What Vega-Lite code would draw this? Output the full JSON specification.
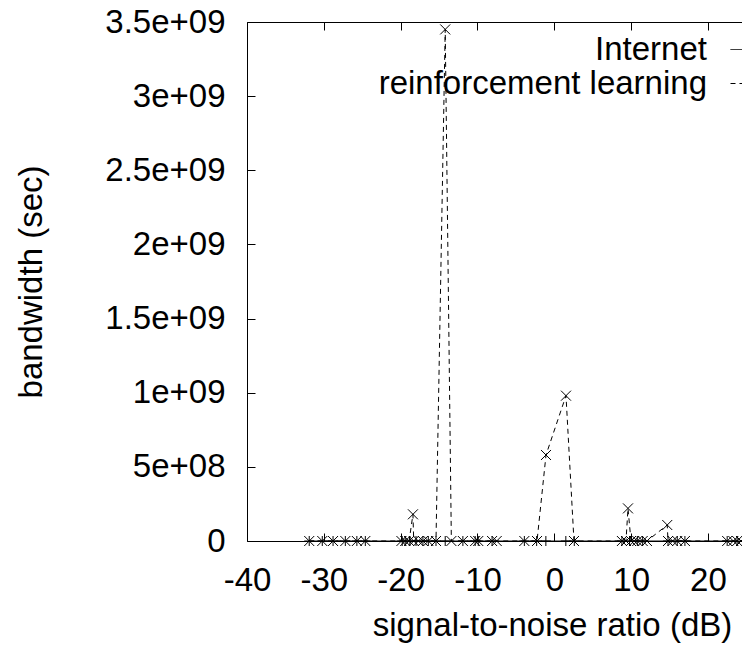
{
  "$schema": "https://vega.github.io/schema/vega-lite/v6.json",
  "width": 496,
  "height": 519,
  "autosize": {"type": "none"},
  "padding": {"left": 247, "top": 22, "right": 0, "bottom": 108},
  "background": "white",
  "config": {
    "view": {"stroke": null},
    "font": "Liberation Sans",
    "axis": {
      "domain": true, "domainWidth": 1,
      "domainColor": "#000", "tickColor": "#000", "labelColor": "#000", "titleColor": "#000",
      "labelFontSize": 33, "titleFontSize": 33, "titleFontWeight": "normal",
      "labelFont": "Liberation Sans", "titleFont": "Liberation Sans",
      "grid": false, "tickSize": -8, "labelFlush": false, "labelOverlap": false
    }
  },
  "datasets": {
    "pts": [
      {"series": "Internet", "snr": -31.9, "bw": 0},
      {"series": "Internet", "snr": -30.2, "bw": 0},
      {"series": "Internet", "snr": -28.8, "bw": 0},
      {"series": "Internet", "snr": -27.2, "bw": 0},
      {"series": "Internet", "snr": -25.7, "bw": 0},
      {"series": "Internet", "snr": -24.6, "bw": 0},
      {"series": "Internet", "snr": -19.8, "bw": 0},
      {"series": "Internet", "snr": -19.4, "bw": 0},
      {"series": "Internet", "snr": -18.8, "bw": 0},
      {"series": "Internet", "snr": -18.0, "bw": 0},
      {"series": "Internet", "snr": -17.1, "bw": 0},
      {"series": "Internet", "snr": -16.4, "bw": 0},
      {"series": "Internet", "snr": -15.4, "bw": 0},
      {"series": "Internet", "snr": -14.2, "bw": 0},
      {"series": "Internet", "snr": -11.9, "bw": 0},
      {"series": "Internet", "snr": -10.3, "bw": 0},
      {"series": "Internet", "snr": -9.9, "bw": 0},
      {"series": "Internet", "snr": -8.1, "bw": 0},
      {"series": "Internet", "snr": -3.9, "bw": 0},
      {"series": "Internet", "snr": -2.3, "bw": 0},
      {"series": "Internet", "snr": -1.1, "bw": 0},
      {"series": "Internet", "snr": 1.5, "bw": 0},
      {"series": "Internet", "snr": 2.6, "bw": 0},
      {"series": "Internet", "snr": 8.8, "bw": 0},
      {"series": "Internet", "snr": 9.8, "bw": 0},
      {"series": "Internet", "snr": 10.8, "bw": 0},
      {"series": "Internet", "snr": 11.5, "bw": 0},
      {"series": "Internet", "snr": 14.8, "bw": 0},
      {"series": "Internet", "snr": 16.0, "bw": 0},
      {"series": "Internet", "snr": 17.0, "bw": 0},
      {"series": "Internet", "snr": 22.5, "bw": 0},
      {"series": "Internet", "snr": 23.8, "bw": 0},
      {"series": "reinforcement learning", "snr": -31.9, "bw": 0},
      {"series": "reinforcement learning", "snr": -30.2, "bw": 0},
      {"series": "reinforcement learning", "snr": -28.8, "bw": 0},
      {"series": "reinforcement learning", "snr": -27.2, "bw": 0},
      {"series": "reinforcement learning", "snr": -25.7, "bw": 0},
      {"series": "reinforcement learning", "snr": -24.6, "bw": 0},
      {"series": "reinforcement learning", "snr": -19.9, "bw": 0},
      {"series": "reinforcement learning", "snr": -19.4, "bw": 0},
      {"series": "reinforcement learning", "snr": -18.9, "bw": 0},
      {"series": "reinforcement learning", "snr": -18.4, "bw": 180000000},
      {"series": "reinforcement learning", "snr": -18.3, "bw": 0},
      {"series": "reinforcement learning", "snr": -17.7, "bw": 0},
      {"series": "reinforcement learning", "snr": -17.1, "bw": 0},
      {"series": "reinforcement learning", "snr": -16.4, "bw": 0},
      {"series": "reinforcement learning", "snr": -15.4, "bw": 0},
      {"series": "reinforcement learning", "snr": -14.2, "bw": 3450000000},
      {"series": "reinforcement learning", "snr": -13.4, "bw": 0},
      {"series": "reinforcement learning", "snr": -11.9, "bw": 0},
      {"series": "reinforcement learning", "snr": -10.3, "bw": 0},
      {"series": "reinforcement learning", "snr": -9.9, "bw": 0},
      {"series": "reinforcement learning", "snr": -8.1, "bw": 0},
      {"series": "reinforcement learning", "snr": -7.5, "bw": 0},
      {"series": "reinforcement learning", "snr": -3.9, "bw": 0},
      {"series": "reinforcement learning", "snr": -2.25, "bw": 0},
      {"series": "reinforcement learning", "snr": -1.08, "bw": 580000000},
      {"series": "reinforcement learning", "snr": 1.52, "bw": 980000000},
      {"series": "reinforcement learning", "snr": 2.56, "bw": 0},
      {"series": "reinforcement learning", "snr": 8.8, "bw": 0},
      {"series": "reinforcement learning", "snr": 9.33, "bw": 0},
      {"series": "reinforcement learning", "snr": 9.59, "bw": 220000000},
      {"series": "reinforcement learning", "snr": 9.98, "bw": 0},
      {"series": "reinforcement learning", "snr": 10.4, "bw": 0},
      {"series": "reinforcement learning", "snr": 10.8, "bw": 0},
      {"series": "reinforcement learning", "snr": 11.5, "bw": 0},
      {"series": "reinforcement learning", "snr": 12.06, "bw": 0},
      {"series": "reinforcement learning", "snr": 14.7, "bw": 108000000},
      {"series": "reinforcement learning", "snr": 14.8, "bw": 0},
      {"series": "reinforcement learning", "snr": 15.4, "bw": 0},
      {"series": "reinforcement learning", "snr": 16.0, "bw": 0},
      {"series": "reinforcement learning", "snr": 17.0, "bw": 0},
      {"series": "reinforcement learning", "snr": 22.5, "bw": 0},
      {"series": "reinforcement learning", "snr": 23.3, "bw": 0},
      {"series": "reinforcement learning", "snr": 23.8, "bw": 0},
      {"series": "reinforcement learning", "snr": 24.3, "bw": 0}
    ]
  },
  "data": {"name": "pts"},
  "layer": [
    {
      "mark": {"type": "line", "strokeWidth": 1, "color": "#000"},
      "encoding": {
        "x": {
          "field": "snr", "type": "quantitative",
          "scale": {"domain": [-40, 24.56], "nice": false, "zero": false},
          "axis": {
            "values": [-40, -30, -20, -10, 0, 10, 20],
            "labelExpr": "'' + datum.value",
            "title": "signal-to-noise ratio (dB)",
            "labelPadding": 31, "titleX": 305, "titlePadding": 12
          }
        },
        "y": {
          "field": "bw", "type": "quantitative",
          "scale": {"domain": [0, 3500000000], "nice": false},
          "axis": {
            "values": [0, 500000000, 1000000000, 1500000000, 2000000000, 2500000000, 3000000000, 3500000000],
            "labelExpr": "datum.value == 0 ? '0' : replace(format(datum.value, '.2~e'), 'e+', 'e+0')",
            "title": "bandwidth (sec)",
            "labelPadding": 30, "titlePadding": 56
          }
        },
        "strokeDash": {
          "field": "series", "type": "nominal",
          "scale": {"domain": ["Internet", "reinforcement learning"], "range": [[1, 0], [5, 4]]},
          "legend": {
            "orient": "none", "legendX": 517, "legendY": 11, "title": null,
            "symbolType": "M-4,0H4", "symbolSize": 625, "symbolStrokeWidth": 1,
            "symbolStrokeColor": "#000", "labelAlign": "right", "labelOffset": -90,
            "labelFontSize": 33, "labelFont": "Liberation Sans", "labelColor": "#000",
            "rowPadding": 0, "padding": 0, "labelLimit": 600
          }
        }
      }
    },
    {
      "transform": [{"filter": "datum.series == 'Internet'"}],
      "mark": {"type": "point", "shape": "M-1,0H1M0,-1V1", "filled": false, "color": "#000", "strokeWidth": 1, "size": 100, "opacity": 1},
      "encoding": {
        "x": {
          "field": "snr", "type": "quantitative",
          "axis": {"orient": "top", "labels": false, "title": null, "values": [-40, -30, -20, -10, 0, 10, 20]}
        },
        "y": {"field": "bw", "type": "quantitative"}
      }
    },
    {
      "transform": [{"filter": "datum.series == 'reinforcement learning'"}],
      "mark": {"type": "point", "shape": "M-1,-1L1,1M-1,1L1,-1", "filled": false, "color": "#000", "strokeWidth": 1, "size": 100, "opacity": 1},
      "encoding": {
        "x": {"field": "snr", "type": "quantitative", "axis": null},
        "y": {"field": "bw", "type": "quantitative"}
      }
    }
  ],
  "resolve": {"axis": {"x": "independent"}}
}
